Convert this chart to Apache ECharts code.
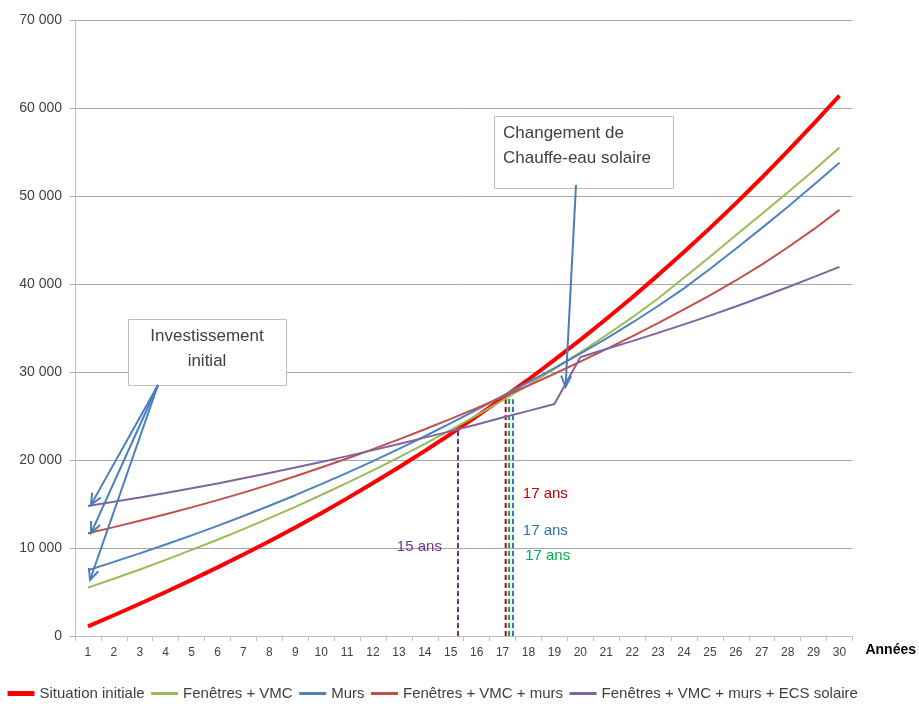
<!DOCTYPE html>
<html>
<head>
<meta charset="utf-8">
<script src="https://cdn.jsdelivr.net/npm/echarts@6/dist/echarts.min.js"></script>
<style>
  html, body { margin: 0; padding: 0; background: #fff; }
  #chart { width: 919px; height: 706px; }
</style>
</head>
<body>
<div id="chart"></div>
<script>
var years = ['1','2','3','4','5','6','7','8','9','10','11','12','13','14','15',
             '16','17','18','19','20','21','22','23','24','25','26','27','28','29','30'];

// cumulated cost (euros) per year
var situation = [1100, 2360, 3660, 5000, 6380, 7800, 9260, 10770, 12340, 13960,
                 15640, 17380, 19170, 21040, 22960, 24960, 27020, 29150, 31370, 33650,
                 36020, 38470, 41010, 43630, 46350, 49160, 52070, 55090, 58200, 61400];
var fenetres = [5500, 6510, 7560, 8650, 9780, 10940, 12140, 13390, 14680, 16020,
                17400, 18830, 20310, 21840, 23430, 25070, 26770, 28530, 30350, 32230,
                34180, 36200, 38350, 40700, 43100, 45550, 47950, 50400, 52900, 55500];
var murs = [7480, 8420, 9390, 10400, 11440, 12520, 13640, 14800, 16000, 17250,
            18540, 19880, 21260, 22700, 24180, 25710, 27300, 28850, 30450, 32100,
            33800, 35600, 37500, 39500, 41700, 44000, 46350, 48750, 51250, 53790];
var fenetresMurs = [11670, 12370, 13090, 13830, 14620, 15440, 16290, 17200, 18150, 19140,
                    20170, 21240, 22350, 23500, 24680, 25900, 27160, 28460, 29800, 31180,
                    32600, 34060, 35560, 37110, 38720, 40400, 42200, 44150, 46200, 48420];
var ecsSolaire = [14770, 15250, 15750, 16260, 16790, 17340, 17920, 18520, 19140, 19780,
                  20440, 21120, 21820, 22540, 23280, 24040, 24820, 25580, 26360, 31680,
                  32610, 33510, 34450, 35410, 36410, 37450, 38520, 39630, 40780, 41950];

// payback markers (year, height reached, label)
var paybackYears = [15.28, 17.12, 17.25, 17.4];
var paybackTops = [23400, 27200, 27200, 26900];
var paybackLabels = ['15 ans', '17 ans', '17 ans', '17 ans'];
var paybackLabelPos = [[12.92, 10100], [17.78, 16150], [17.87, 9100], [17.78, 11950]];

// arrow tips (year, value)
var investTips = [[1.12, 14930], [1.12, 11700], [1.08, 6360]];
var ecsTip = [19.43, 28300];

var font = 'Liberation Sans, Arial, sans-serif';
var chart = echarts.init(document.getElementById('chart'), null, { renderer: 'canvas' });

var dashColors = ['#7030a0', '#c00000', '#00b050', '#2e75b6'];
var dashSeries = paybackYears.map(function(y, i) {
  return {
    type: 'line',
    xAxisIndex: 1,
    data: [[y, 0], [y, paybackTops[i]]],
    symbol: 'none',
    silent: true,
    z: 1,
    lineStyle: { color: dashColors[i], width: 2, type: [5, 3] }
  };
});

var names = ['Situation initiale', 'Fenêtres + VMC', 'Murs', 'Fenêtres + VMC + murs',
             'Fenêtres + VMC + murs + ECS solaire'];
var colors = ['#ff0000', '#9bbb59', '#4f81bd', '#c0504d', '#8064a2'];
var widths = [4, 2, 2, 2, 2];
var values = [situation, fenetres, murs, fenetresMurs, ecsSolaire];

var lineSeries = names.map(function(n, i) {
  return {
    name: n,
    type: 'line',
    data: values[i],
    symbol: 'none',
    z: 3,
    lineStyle: { color: colors[i], width: widths[i] },
    itemStyle: { color: colors[i] }
  };
});

chart.setOption({
  animation: false,
  grid: { left: 75, right: 66, top: 20, bottom: 70 },
  legend: {
    left: 0,
    top: 681,
    itemWidth: 27,
    itemHeight: 14,
    itemGap: 5,
    itemStyle: { opacity: 0 },
    textStyle: { fontFamily: font, fontSize: 15, color: '#404040' },
    data: names.map(function(n, i) {
      return { name: n, lineStyle: { width: widths[i] + 1 } };
    })
  },
  xAxis: [{
    type: 'category',
    data: years,
    boundaryGap: true,
    name: 'Années',
    nameLocation: 'end',
    nameGap: 13,
    nameTextStyle: { fontFamily: font, fontSize: 14, fontWeight: 'bold', color: '#000',
                     verticalAlign: 'top', padding: [7, 0, 0, 0] },
    axisLine: { lineStyle: { color: '#bfbfbf' } },
    axisTick: { show: true, length: 5, lineStyle: { color: '#bfbfbf' } },
    axisLabel: { fontFamily: font, fontSize: 12, color: '#404040', margin: 11, interval: 0 }
  }, {
    type: 'value',
    min: 0.5,
    max: 30.5,
    show: false
  }],
  yAxis: {
    type: 'value',
    min: 0,
    max: 70000,
    interval: 10000,
    axisLine: { show: true, lineStyle: { color: '#bfbfbf' } },
    axisTick: { show: true, length: 5, lineStyle: { color: '#a6a6a6' } },
    splitLine: { lineStyle: { color: '#a6a6a6', width: 1 } },
    axisLabel: {
      fontFamily: font, fontSize: 14, color: '#404040', margin: 13,
      formatter: function(v) {
        return v >= 1000 ? Math.floor(v / 1000) + ' ' + ('00' + (v % 1000)).slice(-3) : String(v);
      }
    }
  },
  series: dashSeries.concat(lineSeries)
});

function px(p) {
  return chart.convertToPixel({ xAxisIndex: 1, yAxisIndex: 0 }, p);
}

var arrowColor = '#4a7ebb';
function arrow(from, to) {
  var dx = to[0] - from[0], dy = to[1] - from[1];
  var len = Math.sqrt(dx * dx + dy * dy);
  var ux = dx / len, uy = dy / len;
  var hl = 11, hw = 5;
  var bx = to[0] - ux * hl, by = to[1] - uy * hl;
  return [{
    type: 'line', z: 50,
    shape: { x1: from[0], y1: from[1], x2: to[0], y2: to[1] },
    style: { stroke: arrowColor, lineWidth: 2 }
  }, {
    type: 'polyline', z: 50,
    shape: { points: [[bx - uy * hw, by + ux * hw], to, [bx + uy * hw, by - ux * hw]] },
    style: { stroke: arrowColor, lineWidth: 2, fill: null }
  }];
}

var graphic = [];

// payback labels
paybackLabels.forEach(function(t, i) {
  var p = px(paybackLabelPos[i]);
  graphic.push({
    type: 'text', x: p[0], y: p[1], z: 40,
    style: { text: t, fill: dashColors[i], font: '15px ' + font, verticalAlign: 'middle' }
  });
});

// "Investissement initial" callout
graphic.push({
  type: 'rect', z: 45,
  shape: { x: 128.5, y: 319.5, width: 158, height: 66 },
  style: { fill: '#fff', stroke: '#bfbfbf', lineWidth: 1 }
});
graphic.push({
  type: 'text', x: 207, y: 324, z: 46,
  style: { text: 'Investissement\ninitial', align: 'center', verticalAlign: 'top',
           font: '17px ' + font, lineHeight: 25, fill: '#404040' }
});
investTips.forEach(function(t) {
  graphic = graphic.concat(arrow([158, 385], px(t)));
});

// "Changement de Chauffe-eau solaire" callout
graphic.push({
  type: 'rect', z: 45,
  shape: { x: 494.5, y: 116.5, width: 179, height: 72 },
  style: { fill: '#fff', stroke: '#bfbfbf', lineWidth: 1 }
});
graphic.push({
  type: 'text', x: 503, y: 121, z: 46,
  style: { text: 'Changement de\nChauffe-eau solaire', align: 'left', verticalAlign: 'top',
           font: '17px ' + font, lineHeight: 25, fill: '#404040' }
});
graphic = graphic.concat(arrow([576, 185], px(ecsTip)));

chart.setOption({ graphic: graphic });
</script>
</body>
</html>
